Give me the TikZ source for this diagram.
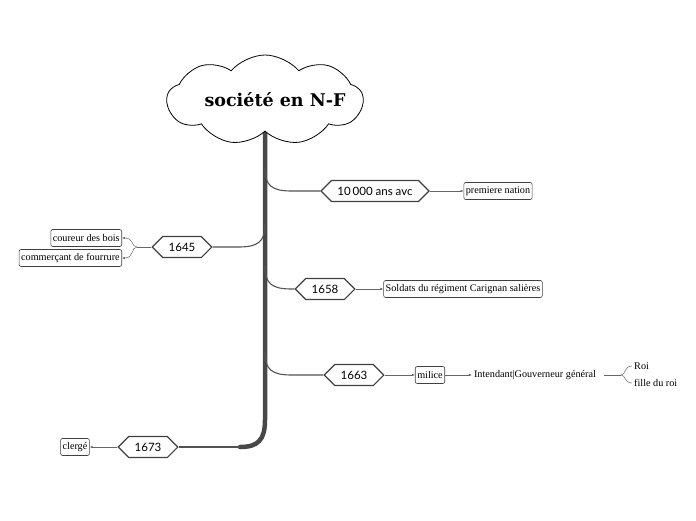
\documentclass[tikz,border=0pt]{standalone}
\usepackage{fontspec}
\setmainfont{Liberation Serif}
\newfontfamily\hexfont{Lato}
\newfontfamily\titlefont{DejaVu Serif}
\usetikzlibrary{arrows.meta,shapes.symbols}

\begin{document}
\begin{tikzpicture}[
  x=1pt, y=-1pt,
  >={Latex[length=3pt,width=2.4pt]},
  trunk/.style={line width=4.5pt, draw=black!72, line cap=round},
  branch/.style={line width=1.1pt, draw=black!68},
  link/.style={line width=.5pt, draw=black!60},
  arr/.style={link, ->},
  hexa/.style={signal, signal to=west and east, draw=black!75, line width=1.2pt,
    fill=white, font=\hexfont\fontsize{11.5}{13}\selectfont, inner xsep=6pt,
    inner ysep=3pt, minimum height=21pt},
  leaf/.style={draw=black!75, line width=.6pt, rounded corners=2pt, fill=white,
    font=\fontsize{10.2}{12}\selectfont, inner sep=2pt, minimum height=17pt},
  plain/.style={font=\fontsize{10.2}{12}\selectfont, inner sep=2pt}
]

\useasboundingbox (0,0) rectangle (696,520);

% trunk under the title
\draw[trunk] (265,132) -- (265,420) .. controls (265,440) and (258,447) .. (240,447);

% title cloud
\node[cloud, cloud puffs=9, cloud puff arc=100, aspect=2.3, draw=black,
  line width=.8pt, fill=white, minimum width=196pt, minimum height=90pt,
  inner sep=0pt] (cloud) at (265,100) {};
\node[font=\titlefont\bfseries\fontsize{17.5}{22}\selectfont]
  (title) at ([xshift=10pt]cloud.center) {société en N-F};

% date nodes
\node[hexa] (avc)  at (375,191) {10\,000 ans avc};
\node[hexa] (y1645) at (182,247) {1645};
\node[hexa] (y1658) at (325,289) {1658};
\node[hexa] (y1663) at (354,375) {1663};
\node[hexa] (y1673) at (148,447) {1673};

% leaves
\node[leaf] (nation) at (498,191) {premiere nation};
\node[leaf, anchor=east] (coureur) at (122,238) {coureur des bois};
\node[leaf, anchor=east] (fourrure) at (122,258) {commerçant de fourrure};
\node[leaf] (soldats) at (463,289) {Soldats du régiment Carignan salières};
\node[leaf] (milice) at (430,375) {milice};
\node[plain] (intend) at (535,375) {Intendant|Gouverneur général};
\node[plain, anchor=west] (roi) at (632,366) {Roi};
\node[plain, anchor=west] (fille) at (632,383) {fille du roi};
\node[leaf] (clerge) at (75,447) {clergé};

\coordinate (forkL) at (137,247);
\coordinate (forkR) at (621,375);

% branches from the trunk
\draw[branch] (265,168) .. controls (265,186) and (272,191) .. (292,191) -- (avc.west);
\draw[branch] (265,224) .. controls (265,242) and (258,247) .. (238,247) -- (y1645.east);
\draw[branch] (265,266) .. controls (265,284) and (272,289) .. (292,289) -- (y1658.west);
\draw[branch] (265,352) .. controls (265,370) and (272,375) .. (292,375) -- (y1663.west);
\draw[branch] (240,447) -- (y1673.east);

% links to the leaves
\draw[arr] (avc.east) -- (nation.west);
\draw[link] (y1645.west) -- (forkL);
\draw[arr] (forkL) .. controls (131,247) and (134,238) .. (coureur.east);
\draw[arr] (forkL) .. controls (131,247) and (134,258) .. (fourrure.east);
\draw[arr] (y1658.east) -- (soldats.west);
\draw[arr] (y1663.east) -- (milice.west);
\draw[arr] (milice.east) -- (intend.west);
\draw[link, line width=.9pt] (intend.east) ++(6,0) -- (forkR);
\draw[link] (forkR) .. controls (626,375) and (624,366) .. (roi.west);
\draw[link] (forkR) .. controls (626,375) and (624,383) .. (fille.west);
\draw[arr] (y1673.west) -- (clerge.east);

\end{tikzpicture}
\end{document}
